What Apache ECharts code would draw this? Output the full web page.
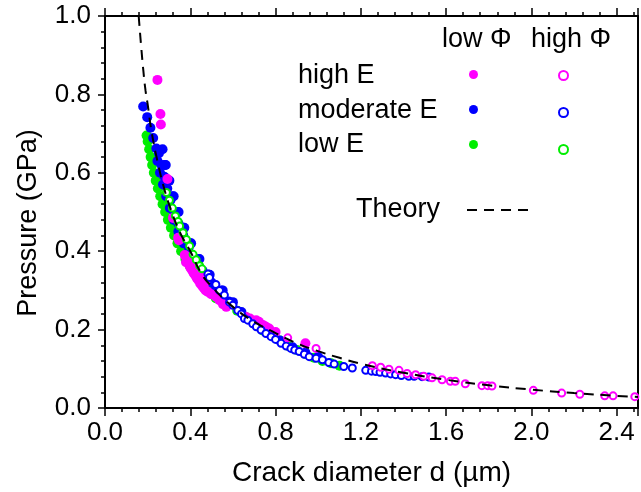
<!DOCTYPE html>
<html><head><meta charset="utf-8">
<script src="https://cdn.jsdelivr.net/npm/echarts@6/dist/echarts.min.js"></script>
<style>html,body{margin:0;padding:0;background:#fff}#c{width:641px;height:492px}</style>
</head><body><div id="c"></div>
<script>
const xTickLabels = ['0.0','0.4','0.8','1.2','1.6','2.0','2.4'];
const yTickLabels = ['0.0','0.2','0.4','0.6','0.8','1.0'];
const rowLabels = ['high E','moderate E','low E'];
const colLabels = ['low Φ','high Φ'];

const theoryD = [0.158,0.17,0.18,0.19,0.20,0.22,0.25,0.28,0.30,0.35,0.40,0.45,0.50,0.60,0.70,0.80,0.90,1.00,1.10,1.20,1.40,1.60,1.80,2.00,2.20,2.40,2.50];
const theoryP = [1.00,0.92,0.86,0.81,0.775,0.70,0.62,0.555,0.52,0.45,0.40,0.345,0.31,0.258,0.22,0.191,0.165,0.145,0.128,0.113,0.09,0.072,0.058,0.047,0.038,0.031,0.028];

const highELowPhiD = [0.246,0.260,0.262,0.293,0.319,0.343,0.347,0.374,0.382,0.380,0.392,0.397,0.403,0.410,0.416,0.424,0.430,0.438,0.446,0.455,0.463,0.472,0.483,0.498,0.400,0.412,0.425,0.440,0.455,0.470,0.522,0.537,0.553,0.569,0.662,0.680,0.709,0.722,0.740,0.755,0.770,0.800,0.940];
const highELowPhiP = [0.837,0.750,0.723,0.584,0.485,0.434,0.428,0.390,0.384,0.372,0.370,0.362,0.356,0.350,0.344,0.338,0.332,0.326,0.318,0.312,0.306,0.300,0.296,0.290,0.386,0.375,0.362,0.348,0.335,0.322,0.283,0.275,0.265,0.258,0.232,0.228,0.224,0.220,0.212,0.207,0.203,0.194,0.165];

const highEHighPhiD = [0.857,0.990,1.254,1.293,1.332,1.379,1.417,1.457,1.495,1.534,1.581,1.620,1.643,1.690,1.768,1.795,1.815,2.009,2.142,2.227,2.344,2.383,2.485];
const highEHighPhiP = [0.179,0.152,0.108,0.104,0.099,0.096,0.088,0.085,0.081,0.077,0.072,0.068,0.068,0.062,0.057,0.057,0.056,0.045,0.038,0.035,0.031,0.031,0.029];

const modELowPhiD = [0.179,0.198,0.213,0.226,0.241,
  0.246,0.258,0.272,0.287,0.304,0.323,0.344,0.369,0.397,0.430,0.470,0.517,
  0.253,0.265,0.278,0.292,0.307,0.325,0.345,0.367,0.393,0.423,0.458,0.500,0.550,
  0.280,0.297,0.317,0.340,0.367,0.399,0.438,0.486,0.547,0.600,
  0.270,0.285,0.302,0.322,0.345,0.372,0.404,0.443,0.491,0.552,
  0.580,0.640,0.700,0.760,0.820,0.880,0.940,1.000];
const modELowPhiP = [0.769,0.742,0.715,0.689,0.662,
  0.630,0.600,0.570,0.540,0.510,0.480,0.450,0.420,0.390,0.360,0.330,0.300,
  0.650,0.620,0.590,0.560,0.530,0.500,0.470,0.440,0.410,0.380,0.350,0.320,0.290,
  0.620,0.580,0.540,0.500,0.460,0.420,0.380,0.340,0.300,0.270,
  0.660,0.620,0.580,0.540,0.500,0.460,0.420,0.380,0.340,0.300,
  0.272,0.245,0.218,0.193,0.172,0.155,0.141,0.130];

const modEHighPhiD = [0.483,0.490,0.520,0.537,0.560,0.584,0.600,0.623,0.640,0.654,0.670,0.693,0.710,0.732,0.755,0.779,0.800,0.826,0.850,0.872,0.890,0.911,0.935,0.958,0.990,1.020,1.050,1.075,1.120,1.160,1.223,1.250,1.270,1.290,1.316,1.340,1.363,1.390,1.425,1.450,1.487,1.519];
const modEHighPhiP = [0.342,0.333,0.315,0.300,0.288,0.270,0.262,0.249,0.240,0.228,0.224,0.215,0.207,0.199,0.190,0.182,0.175,0.165,0.158,0.152,0.148,0.144,0.137,0.131,0.127,0.123,0.116,0.112,0.106,0.102,0.096,0.094,0.093,0.091,0.089,0.087,0.085,0.083,0.081,0.081,0.080,0.079];

const lowELowPhiD = [0.195,0.200,0.207,0.214,0.221,0.229,0.238,0.248,0.259,0.270,0.282,0.295,0.309,0.324,0.340,0.357,0.377,0.400,0.425,0.452,0.483,0.520,0.565,0.620,0.660,0.700,0.740,0.780,0.820,0.860,0.900,0.940,0.980,1.020,1.060,1.100];
const lowELowPhiP = [0.695,0.680,0.660,0.640,0.620,0.600,0.580,0.560,0.540,0.520,0.500,0.480,0.460,0.440,0.420,0.400,0.380,0.360,0.340,0.320,0.300,0.280,0.262,0.248,0.232,0.215,0.198,0.185,0.172,0.158,0.148,0.138,0.128,0.120,0.114,0.108];

const lowEHighPhiD = [0.288,0.302,0.316,0.330,0.343,0.350,0.366,0.382,0.397,0.413,0.428,0.444,0.455];
const lowEHighPhiP = [0.550,0.530,0.510,0.490,0.476,0.464,0.447,0.430,0.413,0.392,0.378,0.363,0.355];

const MAGENTA = '#ff00ff', BLUE = '#0000ff', GREEN = '#00ee00';
const FONT = '"Liberation Sans", Arial, sans-serif';
const zip = (a, b) => a.map((v, i) => [v, b[i]]);

function labelFor(list, step) {
  return v => {
    const i = Math.round(v / step);
    return Math.abs(v - i * step) < 1e-6 && list[i] !== undefined ? list[i] : '';
  };
}

function filled(name, color, d, p) {
  return { name, type: 'scatter', symbol: 'circle', symbolSize: 10, data: zip(d, p),
    itemStyle: { color: color, opacity: 1 }, silent: true };
}
function hollow(name, color, d, p) {
  return { name, type: 'scatter', symbol: 'circle', symbolSize: 7, data: zip(d, p),
    itemStyle: { color: '#ffffff', borderColor: color, borderWidth: 2, opacity: 1 }, silent: true };
}

const names = {
  hl: 'high E, low Φ', ml: 'moderate E, low Φ', ll: 'low E, low Φ',
  hh: 'high E, high Φ', mh: 'moderate E, high Φ', lh: 'low E, high Φ'
};

const axisLineStyle = { color: '#000', width: 2 };
const chart = echarts.init(document.getElementById('c'), null, { renderer: 'canvas' });
chart.setOption({
  animation: false,
  backgroundColor: '#fff',
  grid: { left: 105, right: 1, top: 16, bottom: 80 },
  xAxis: [
    { type: 'value', position: 'bottom', min: 0, max: 2.5, interval: 0.4,
      axisLine: { show: true, onZero: false, lineStyle: axisLineStyle },
      axisTick: { show: true, inside: false, length: 8, lineStyle: { color: '#000', width: 1.5 } },
      axisLabel: { formatter: labelFor(xTickLabels, 0.4), fontSize: 26, color: '#000', fontFamily: FONT, margin: 12 },
      splitLine: { show: false },
      name: 'Crack diameter d (µm)', nameLocation: 'middle', nameGap: 51,
      nameTextStyle: { fontSize: 28, color: '#000', fontFamily: FONT } },
    { type: 'value', position: 'bottom', min: 0, max: 2.5, interval: 0.08,
      axisLine: { show: false, onZero: false },
      axisTick: { show: true, inside: false, length: 4, lineStyle: { color: '#000', width: 1.5 } },
      axisLabel: { show: false }, splitLine: { show: false } },
    { type: 'value', position: 'top', min: 0, max: 2.5, interval: 0.4,
      axisLine: { show: true, onZero: false, lineStyle: axisLineStyle },
      axisTick: { show: true, inside: false, length: 8, lineStyle: { color: '#000', width: 1.5 } },
      axisLabel: { show: false }, splitLine: { show: false } },
    { type: 'value', position: 'top', min: 0, max: 2.5, interval: 0.08,
      axisLine: { show: false, onZero: false },
      axisTick: { show: true, inside: false, length: 4, lineStyle: { color: '#000', width: 1.5 } },
      axisLabel: { show: false }, splitLine: { show: false } }
  ],
  yAxis: [
    { type: 'value', position: 'left', min: 0, max: 1, interval: 0.2,
      axisLine: { show: true, onZero: false, lineStyle: axisLineStyle },
      axisTick: { show: true, inside: false, length: 7, lineStyle: { color: '#000', width: 1.5 } },
      axisLabel: { formatter: labelFor(yTickLabels, 0.2), fontSize: 26, color: '#000', fontFamily: FONT, margin: 14 },
      splitLine: { show: false },
      name: 'Pressure (GPa)', nameLocation: 'middle', nameGap: 63,
      nameTextStyle: { fontSize: 27, color: '#000', fontFamily: FONT, padding: [0, 22, 0, 0] } },
    { type: 'value', position: 'left', min: 0, max: 1, interval: 0.04,
      axisLine: { show: false, onZero: false },
      axisTick: { show: true, inside: false, length: 4, lineStyle: { color: '#000', width: 1.5 } },
      axisLabel: { show: false }, splitLine: { show: false } },
    { type: 'value', position: 'right', min: 0, max: 1, interval: 0.2,
      axisLine: { show: true, onZero: false, lineStyle: axisLineStyle },
      axisTick: { show: false }, axisLabel: { show: false }, splitLine: { show: false } }
  ],
  legend: [
    { data: [names.hl, names.ml, names.ll], orient: 'vertical', left: 469, top: 70, padding: 0,
      itemWidth: 9, itemHeight: 9, itemGap: 26, icon: 'circle', formatter: () => '', selectedMode: false },
    { data: [names.hh, names.mh, names.lh], orient: 'vertical', left: 558, top: 70, padding: 0,
      itemWidth: 9, itemHeight: 9, itemGap: 26, icon: 'circle', formatter: () => '', selectedMode: false },
    { data: ['Theory'], left: 466, top: 203, padding: 0, itemWidth: 64, itemHeight: 14,
      itemStyle: { opacity: 0 }, formatter: () => '', selectedMode: false }
  ],
  graphic: [
    { type: 'text', x: 442, y: 40, style: { text: colLabels[0], font: '27px ' + FONT, fill: '#000', verticalAlign: 'middle' } },
    { type: 'text', x: 531, y: 40, style: { text: colLabels[1], font: '27px ' + FONT, fill: '#000', verticalAlign: 'middle' } },
    { type: 'text', x: 298, y: 76, style: { text: rowLabels[0], font: '27px ' + FONT, fill: '#000', verticalAlign: 'middle' } },
    { type: 'text', x: 298, y: 111, style: { text: rowLabels[1], font: '27px ' + FONT, fill: '#000', verticalAlign: 'middle' } },
    { type: 'text', x: 298, y: 145, style: { text: rowLabels[2], font: '27px ' + FONT, fill: '#000', verticalAlign: 'middle' } },
    { type: 'text', x: 356, y: 210, style: { text: 'Theory', font: '27px ' + FONT, fill: '#000', verticalAlign: 'middle' } }
  ],
  series: [
    filled(names.ll, GREEN, lowELowPhiD, lowELowPhiP),
    filled(names.ml, BLUE, modELowPhiD, modELowPhiP),
    filled(names.hl, MAGENTA, highELowPhiD, highELowPhiP),
    hollow(names.lh, GREEN, lowEHighPhiD, lowEHighPhiP),
    hollow(names.mh, BLUE, modEHighPhiD, modEHighPhiP),
    hollow(names.hh, MAGENTA, highEHighPhiD, highEHighPhiP),
    { name: 'Theory', type: 'line', smooth: true, symbol: 'none', data: zip(theoryD, theoryP),
      lineStyle: { color: '#000', width: 2, type: [10, 7] }, itemStyle: { color: '#000' }, silent: true, z: 5 }
  ]
});
</script></body></html>
